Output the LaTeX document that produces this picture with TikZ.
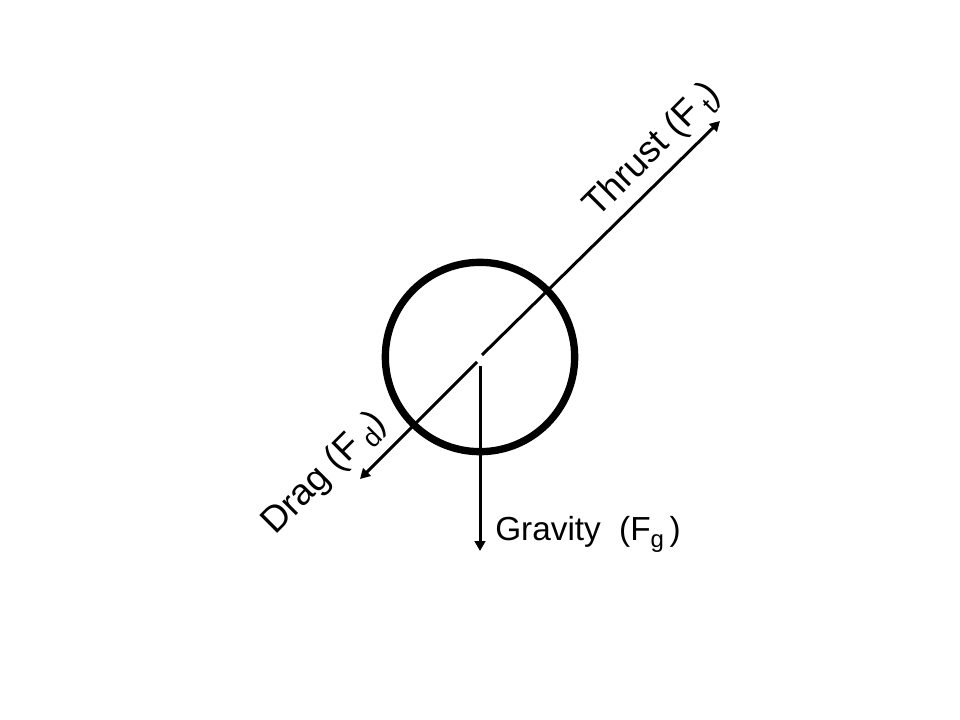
\documentclass[tikz,border=0pt]{standalone}
\usepackage{fontspec}
\setmainfont{Liberation Sans}
\usetikzlibrary{arrows.meta}
\newcommand{\lowsub}[2][18]{\raisebox{-0.45ex}{\fontsize{#1}{#1}\selectfont #2}}
\begin{document}
\begin{tikzpicture}[x=0.75pt,y=-0.75pt,
    force/.style={line width=2.25pt,-{Triangle[length=7.5pt,width=8pt]}},
    lbl/.style={font=\fontsize{25}{30}\selectfont,inner sep=0pt},
    slant/.style={lbl,font=\fontsize{27.5}{32}\selectfont,rotate=45}]
  \useasboundingbox (0,0) rectangle (960,720);
  \node[draw,circle,line width=5.5pt,minimum size=142pt,inner sep=0pt] (ball) at (480,357) {};
  \coordinate (tstart) at (482,355);
  \coordinate (ttip) at (720,121);
  \coordinate (dstart) at (477,362);
  \coordinate (dtip) at (360,479);
  \coordinate (gstart) at (480,366);
  \coordinate (gtip) at (480,551);
  \draw[force] (tstart) -- (ttip);
  \draw[force] (dstart) -- (dtip);
  \draw[force] (gstart) -- (gtip);
  \node[slant] (thrust) at (653,151) {Thrust (F\,\lowsub[20]{t})};
  \node[slant] (drag) at (325,474) {Drag (F\,\lowsub[20]{d})};
  \node[lbl,anchor=base west] (gravity) at (495,540) {Gravity\hspace{0.55em}(F\lowsub{g}\,)};
\end{tikzpicture}
\end{document}
